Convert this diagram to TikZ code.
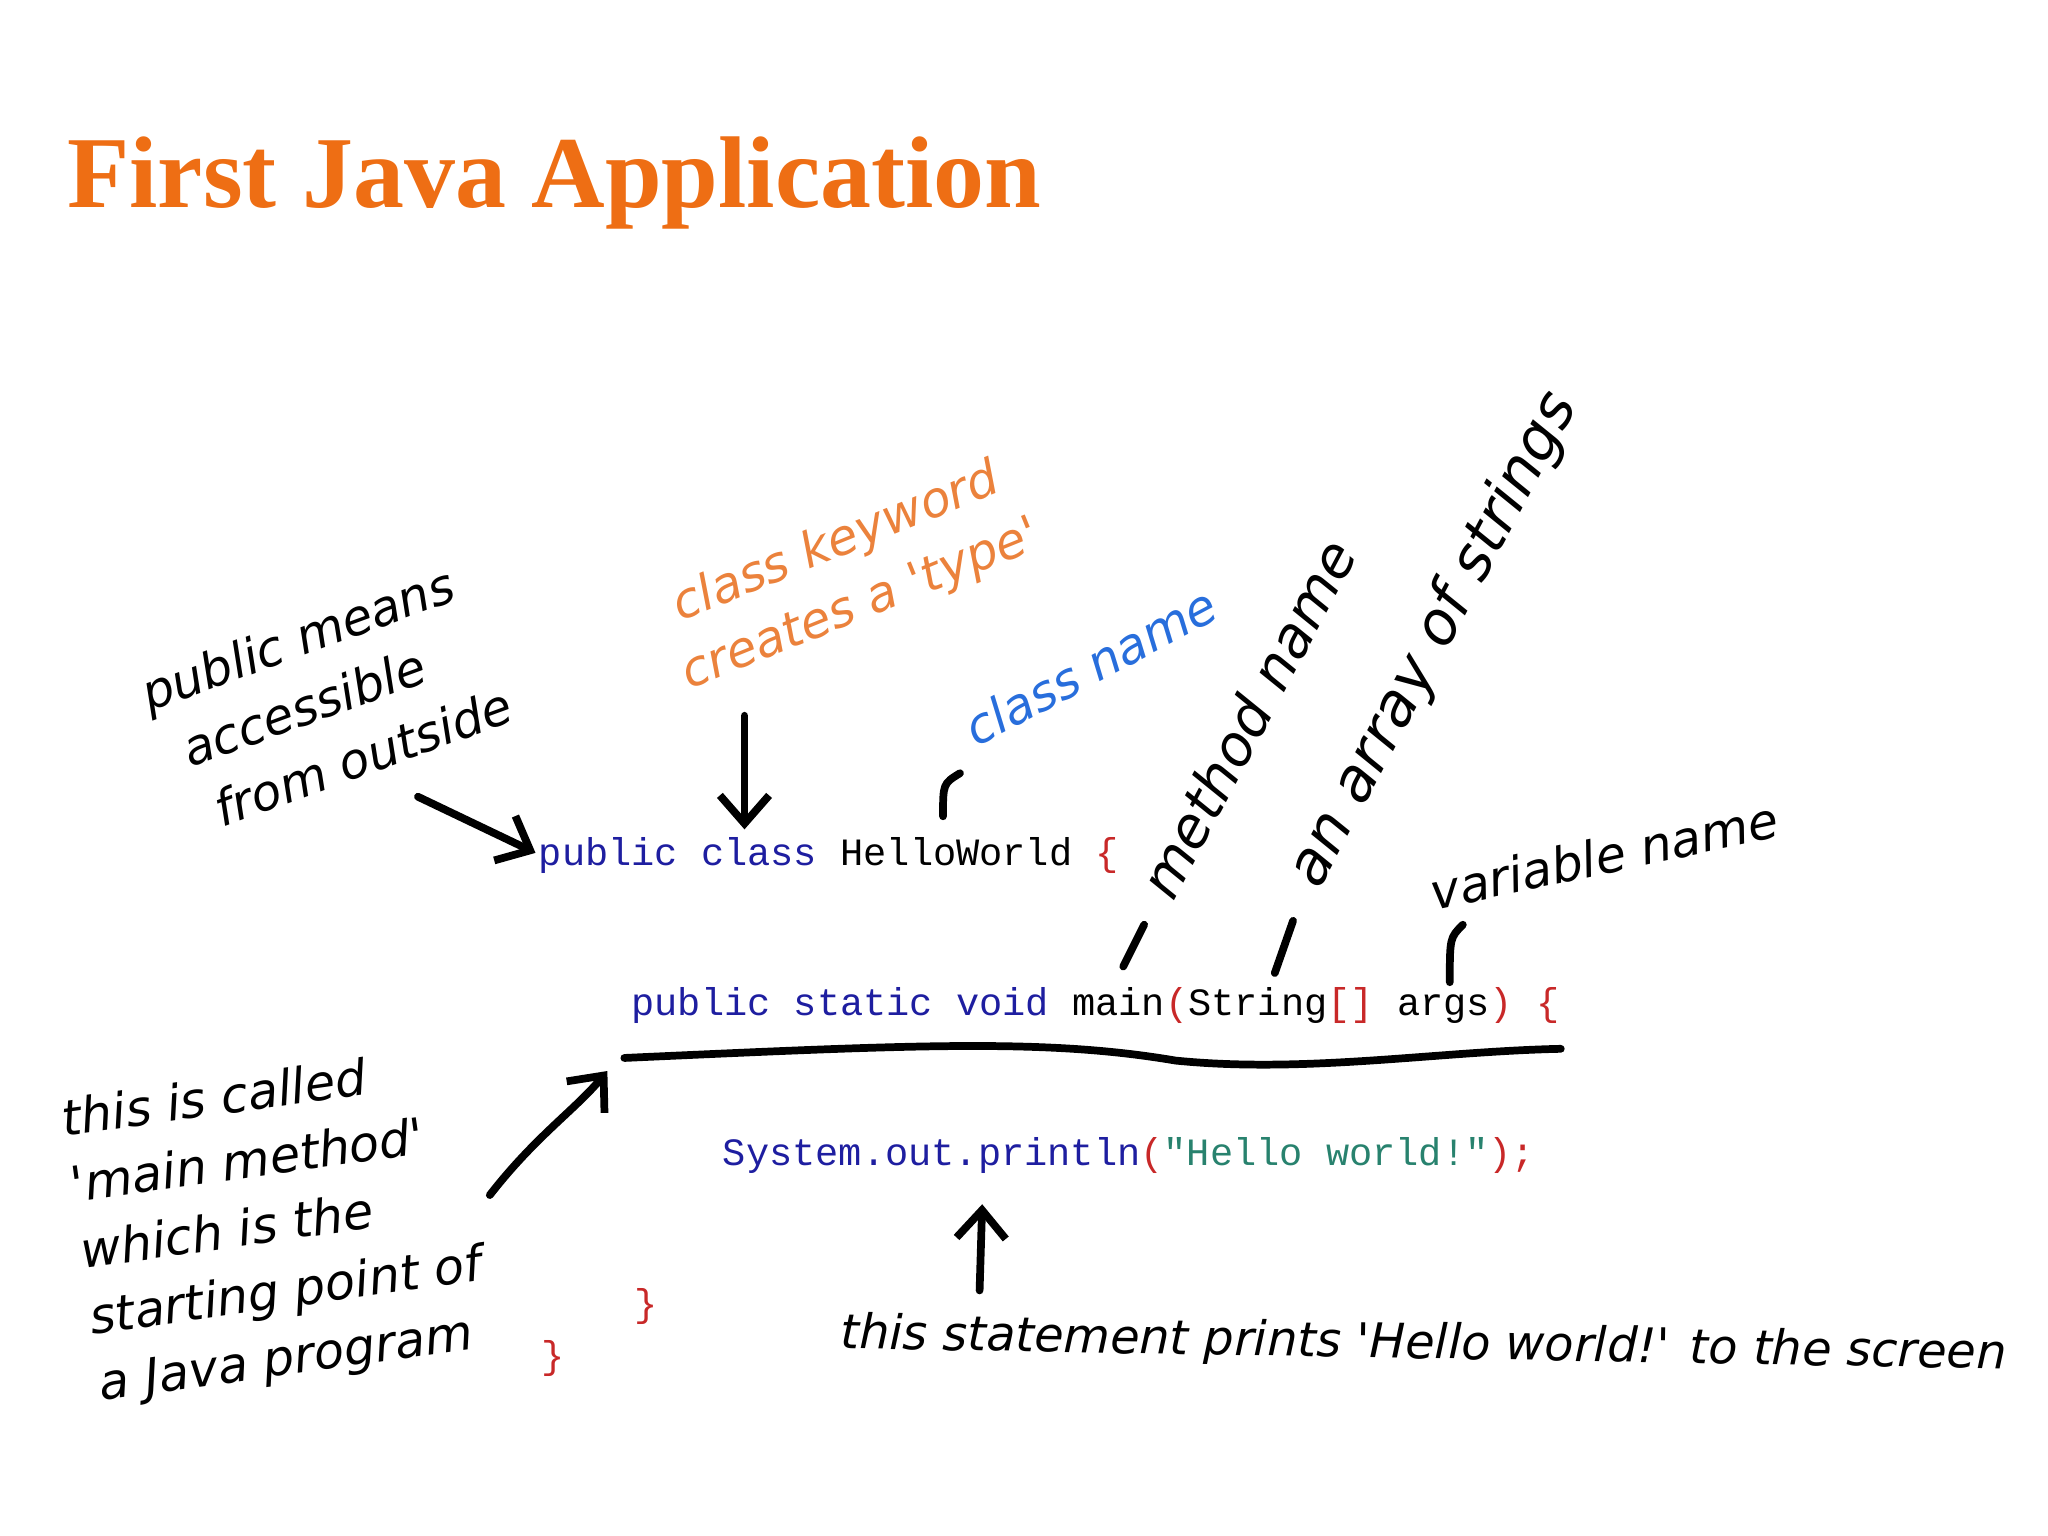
\documentclass[tikz,border=0pt]{standalone}
\usepackage{fontspec}
\setmainfont{Liberation Serif}
\newfontfamily\handfont{DejaVu Sans}
\newfontfamily\codefont{Liberation Mono}
\usetikzlibrary{arrows.meta}
\definecolor{titleorange}{RGB}{238,110,20}
\definecolor{noteorange}{RGB}{235,130,60}
\definecolor{noteblue}{RGB}{40,110,220}
\definecolor{kwblue}{RGB}{30,30,160}
\definecolor{strgreen}{RGB}{40,130,110}
\definecolor{brred}{RGB}{200,40,40}
\tikzset{
  note/.style={font=\handfont\itshape\fontsize{14}{19}\selectfont, align=center, inner sep=0pt},
  code/.style={font=\codefont\fontsize{11}{13}\selectfont, anchor=west, inner sep=0pt},
  ink/.style={line width=2.2pt, line cap=round},
  inkarrow/.style={ink, -{Straight Barb[length=8pt,width=14pt,line width=2.2pt]}}
}
\begin{document}
\begin{tikzpicture}[x=0.013061cm, y=-0.013061cm]
          % Page
          \useasboundingbox (0,0) rectangle (1568,1176);

          % Title
          \node[anchor=west, text=titleorange, font=\bfseries\fontsize{29}{34}\selectfont] (title) at (42,140) {First Java Application};

          % Code
          \node[code] (cls) at (412,655) {\textcolor{kwblue}{public class} HelloWorld \textcolor{brred}{\{}};
          \node[code] (mth) at (483,770) {\textcolor{kwblue}{public static void} main\textcolor{brred}{(}String\textcolor{brred}{[]} args\textcolor{brred}{) \{}};
          \node[code] (prn) at (553,885) {\textcolor{kwblue}{System.out.println}\textcolor{brred}{(}\textcolor{strgreen}{"Hello world!"}\textcolor{brred}{);}};
          \node[code, text=brred] (end1) at (485,1000) {\}};
          \node[code, text=brred] (end2) at (414,1040) {\}};

          % Notes
          \node[note, rotate=20, align=left] (pub) at (250,535) {public means\\\hspace*{0.4em}accessible\\\hspace*{0.6em}from outside};
          \node[note, rotate=22, text=noteorange] (kw) at (650,440) {class keyword\\creates a 'type'};
          \node[note, rotate=28, text=noteblue] (cname) at (835,510) {class name};
          \node[note, rotate=62, font=\handfont\itshape\fontsize{16}{19}\selectfont] (mname) at (955,550) {method name};
          \node[note, rotate=62, font=\handfont\itshape\fontsize{17}{19}\selectfont] (arr) at (1098,490) {an array of strings};
          \node[note, rotate=12] (var) at (1228,655) {variable name};
          \node[note, rotate=8, align=left] (mainm) at (212,940) {this is called\\'main method'\\which is the\\starting point of\\a Java program};
          \node[note, rotate=-1, font=\handfont\itshape\fontsize{13.6}{17}\selectfont] (stmt) at (1090,1030) {this statement prints 'Hello world!' to the screen};

          % Arrows and marks
          \coordinate (pubtip) at (410,653);
          \coordinate (kwtip) at (570,635);
          \coordinate (mtip) at (465,820);
          \coordinate (stip) at (752,922);
          \draw[inkarrow] (320,610) -- (pubtip);
          \draw[inkarrow] (570,548) -- (kwtip);
          \draw[inkarrow] (375,915) .. controls (410,870) and (440,850) .. (mtip);
          \draw[inkarrow] (750,988) -- (stip);
          \draw[ink] (735,592) .. controls (722,600) .. (722,625);
          \draw[ink] (876,708) -- (860,740);
          \draw[ink] (990,705) -- (976,745);
          \draw[ink] (1120,708) .. controls (1110,718) .. (1110,752);
          \draw[ink] (478,810) .. controls (700,800) and (800,795) .. (900,812) .. controls (1000,822) and (1100,805) .. (1195,803);
\end{tikzpicture}
\end{document}
